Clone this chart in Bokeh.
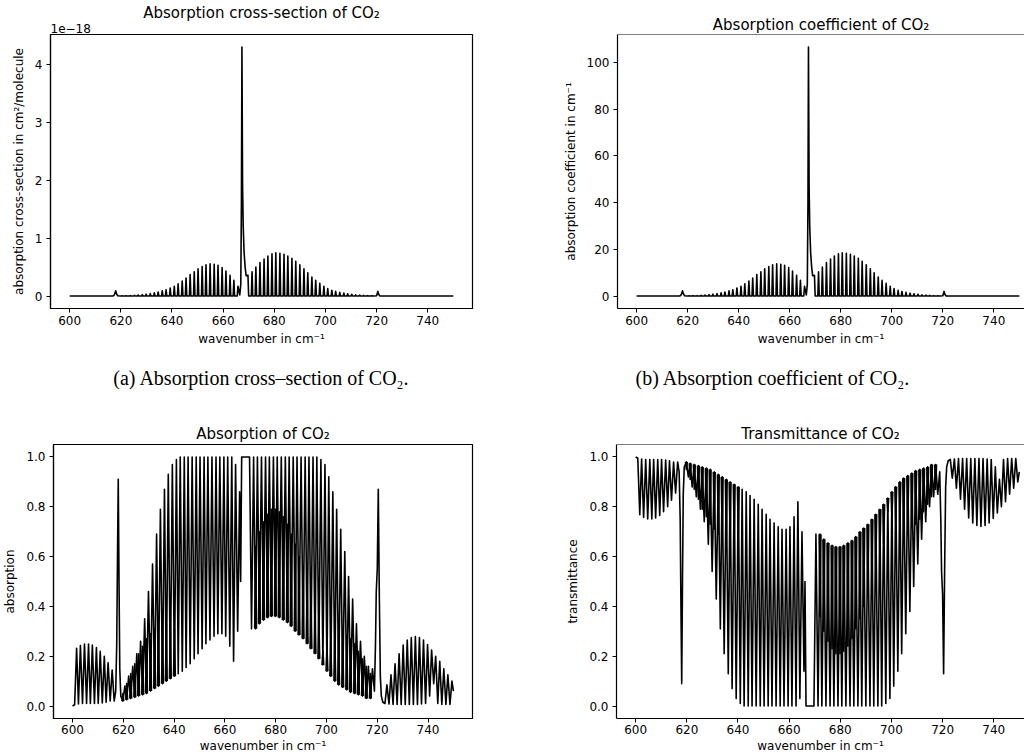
from bokeh.plotting import figure
from bokeh.layouts import column, row
from bokeh.models import Range1d, FixedTicker, Span, Title
from bokeh.embed import file_html
from bokeh.resources import INLINE

# ---------------- data ----------------
x_ticks = [600, 620, 640, 660, 680, 700, 720, 740]

# main nu2 band, P branch lines (cm^-1), ascending
p_pos = [620.6, 622.1, 623.7, 625.3, 626.8, 628.4, 629.9, 631.5, 633.1, 634.6,
         636.2, 637.7, 639.3, 640.9, 642.4, 644.0, 645.5, 647.1, 648.7, 650.2,
         651.8, 653.3, 654.9, 656.5, 658.0, 659.6, 661.1, 662.7, 664.2, 665.8]
# cross-section peaks, units of 1e-18 cm^2/molecule
p_sigma = [0.003, 0.005, 0.008, 0.012, 0.017, 0.024, 0.032, 0.042, 0.055, 0.07,
           0.09, 0.11, 0.14, 0.17, 0.21, 0.26, 0.31, 0.37, 0.42, 0.47,
           0.51, 0.54, 0.555, 0.55, 0.53, 0.49, 0.43, 0.36, 0.27, 0.17]
# absorption at each line and in the trough just below it
p_abs_peak = [0.08, 0.12, 0.16, 0.21, 0.26, 0.35, 0.46, 0.57, 0.69, 0.79,
              0.87, 0.93, 0.97, 0.99, 1.0, 1.0, 1.0, 1.0, 1.0, 1.0,
              1.0, 1.0, 1.0, 1.0, 1.0, 1.0, 1.0, 1.0, 0.97, 0.86]
p_abs_trough = [0.02, 0.025, 0.03, 0.035, 0.04, 0.045, 0.05, 0.06, 0.07, 0.08,
                0.09, 0.10, 0.11, 0.12, 0.13, 0.14, 0.155, 0.17, 0.19, 0.21,
                0.23, 0.25, 0.265, 0.28, 0.29, 0.29, 0.28, 0.24, 0.18, 0.30]

# main band, R branch lines
r_pos = [669.7, 671.3, 672.8, 674.4, 676.0, 677.5, 679.1, 680.6, 682.2, 683.8,
         685.3, 686.9, 688.4, 690.0, 691.6, 693.1, 694.7, 696.2, 697.8, 699.4,
         700.9, 702.5, 704.0, 705.6, 707.2, 708.7, 710.3, 711.8, 713.4, 714.9,
         716.5, 718.1]
r_sigma = [0.36, 0.42, 0.50, 0.58, 0.64, 0.69, 0.73, 0.745, 0.74, 0.72,
           0.69, 0.65, 0.60, 0.54, 0.47, 0.40, 0.33, 0.27, 0.22, 0.17,
           0.13, 0.10, 0.08, 0.065, 0.05, 0.04, 0.03, 0.022, 0.016, 0.011,
           0.008, 0.005]
r_abs_peak = [1.0, 1.0, 1.0, 1.0, 1.0, 1.0, 1.0, 1.0, 1.0, 1.0,
              1.0, 1.0, 1.0, 1.0, 1.0, 1.0, 1.0, 1.0, 0.99, 0.97,
              0.92, 0.86, 0.79, 0.71, 0.62, 0.52, 0.43, 0.33, 0.26, 0.20,
              0.16, 0.15]
r_abs_trough = [0.31, 0.31, 0.33, 0.345, 0.355, 0.36, 0.36, 0.355, 0.345, 0.335,
                0.32, 0.30, 0.285, 0.27, 0.25, 0.23, 0.21, 0.19, 0.165, 0.14,
                0.12, 0.10, 0.085, 0.075, 0.065, 0.055, 0.05, 0.045, 0.04, 0.03,
                0.03, 0.06]

# Q branch near 667 cm^-1
q_x = [666.5, 666.9, 667.15, 667.35, 667.6, 667.85, 668.2, 668.6, 669.0]
q_sigma = [0.02, 0.2, 1.6, 4.30, 1.9, 1.2, 0.75, 0.5, 0.35]
q_abs_x = [666.2, 666.6, 669.3]
q_abs = [0.5, 1.0, 1.0]

# weak bands at 618 and 721 cm^-1
b618_sigma_x = [617.3, 617.7, 618.0, 618.3, 618.8]
b618_sigma = [0.01, 0.05, 0.09, 0.04, 0.005]
b721_sigma_x = [720.0, 720.3, 720.5, 720.8, 721.3]
b721_sigma = [0.005, 0.05, 0.08, 0.03, 0.0]
b618_abs_x = [616.4, 617.0, 617.4, 617.7, 618.0, 618.3, 618.6, 619.0]
b618_abs = [0.02, 0.06, 0.25, 0.60, 0.91, 0.50, 0.15, 0.04]
b721_abs_x = [719.3, 719.6, 720.0, 720.4, 720.8, 721.2, 721.6, 722.2]
b721_abs = [0.25, 0.46, 0.55, 0.87, 0.45, 0.12, 0.04, 0.015]

# lines of the weak bands at the edges of the range
edge_lo_pos = [601.6, 603.1, 604.7, 606.3, 607.8, 609.4, 610.9, 612.5, 614.0, 615.6]
edge_lo_abs = [0.232, 0.243, 0.249, 0.249, 0.245, 0.235, 0.22, 0.20, 0.174, 0.145]
edge_lo_trough = [0.005, 0.008, 0.01, 0.01, 0.01, 0.01, 0.01, 0.012, 0.015, 0.02]
edge_hi_pos = [723.8, 725.4, 727.0, 728.6, 730.2, 731.8, 733.4, 735.0, 736.6, 738.2,
               739.8, 741.4, 743.0, 744.6, 746.2, 747.8, 749.4]
edge_hi_abs = [0.085, 0.125, 0.17, 0.21, 0.245, 0.265, 0.275, 0.279, 0.275, 0.265,
               0.247, 0.225, 0.20, 0.18, 0.15, 0.125, 0.10]
edge_hi_trough = [0.01, 0.008, 0.006, 0.006, 0.006, 0.006, 0.006, 0.006, 0.006, 0.008,
                  0.01, 0.04, 0.09, 0.01, 0.006, 0.006, 0.006]

# weaker interleaved lines (hot bands), absorption peaks
sec618_abs = [0.05, 0.09, 0.13, 0.17, 0.21, 0.24, 0.27, 0.29, 0.31, 0.32, 0.33, 0.33, 0.32, 0.31]
hot_abs = [0.64, 0.70, 0.74, 0.77, 0.79, 0.79, 0.78, 0.76, 0.73, 0.69, 0.65, 0.60, 0.55,
           0.50, 0.45, 0.40, 0.35]
sec721_abs = [0.22, 0.24, 0.26, 0.28, 0.29, 0.29, 0.285, 0.27, 0.25, 0.22, 0.19, 0.16, 0.13]

n_co2 = 2.48e19          # molecules per cm^3 (ratio of panel b to panel a)
sigma_unit = 1e-18

HALF = 0.78              # half line spacing (cm^-1): trough position
NARROW = 0.28            # half width of a drawn cross-section spike

# ---------------- build curves ----------------
def cross_section_curve():
    xs, ys = [600.0, 616.8], [0.0, 0.0]
    xs += b618_sigma_x; ys += b618_sigma
    for c, h in zip(p_pos, p_sigma):
        xs += [c - HALF, c - NARROW, c]; ys += [0.0, 0.0, h]
        if c < p_pos[-1]:
            xs += [c + NARROW]; ys += [0.0]
    xs += q_x; ys += q_sigma
    for k, (c, h) in enumerate(zip(r_pos, r_sigma)):
        if k > 0:
            xs += [c - NARROW]; ys += [0.0]
        xs += [c, c + NARROW, c + HALF]; ys += [h, 0.0, 0.0]
    xs += b721_sigma_x; ys += b721_sigma
    xs += [750.0]; ys += [0.0]
    return xs, ys


def absorption_curve():
    xs, ys = [600.0], [0.0]
    for c, h, t in zip(edge_lo_pos, edge_lo_abs, edge_lo_trough):
        xs += [c - HALF, c]; ys += [t, h]
    xs += b618_abs_x; ys += b618_abs
    for c, h, t in zip(p_pos, p_abs_peak, p_abs_trough):
        xs += [c - HALF, c]; ys += [t, h]
    xs += q_abs_x; ys += q_abs
    for c, h, t in zip(r_pos, r_abs_peak, r_abs_trough):
        xs += [c, c + HALF]; ys += [h, t]
    xs += b721_abs_x; ys += b721_abs
    for c, h, t in zip(edge_hi_pos, edge_hi_abs, edge_hi_trough):
        xs += [c - HALF, c]; ys += [t, h]
    xs += [750.0]; ys += [0.06]
    return xs, ys


def secondary_lines():
    mxs, mys = [], []
    for i, h in enumerate(sec618_abs):
        c, b = p_pos[i] - HALF, p_abs_trough[i]
        mxs.append([c - 0.35, c, c + 0.35]); mys.append([b, h, b])
    for j, h in enumerate(hot_abs):
        i = j + 1
        c, b = r_pos[i] + HALF, r_abs_trough[i]
        mxs.append([c - 0.35, c, c + 0.35]); mys.append([b, h, b])
    for j, h in enumerate(sec721_abs):
        i = j + 18
        c, b = r_pos[i] + HALF, r_abs_trough[i]
        mxs.append([c - 0.35, c, c + 0.35]); mys.append([b, h, b])
    return mxs, mys


sx, sy = cross_section_curve()
ky = [v * sigma_unit * n_co2 for v in sy]
ax, ay = absorption_curve()
ty = [1.0 - v for v in ay]
smx, smy = secondary_lines()
tmy = [[1.0 - v for v in l] for l in smy]

FONT = "DejaVu Sans"
SERIF = "Liberation Serif"
LW = 1.6


def make_fig(width, height, x_end, y_rng, yticks, ylabels, title, ylabel,
             bl, br, bt, bb, clipped, xls=2, xas=2, tso=4):
    p = figure(width=width, height=height, x_range=Range1d(592.5, x_end),
               y_range=Range1d(*y_rng), output_backend="svg", toolbar_location=None,
               min_border_left=bl, min_border_right=br, min_border_top=bt,
               min_border_bottom=bb, title=title)
    p.grid.visible = False
    p.background_fill_color = "white"
    p.border_fill_color = "white"
    if clipped:
        p.outline_line_color = None
        p.add_layout(Span(location=y_rng[1], dimension="width",
                          line_color="black", line_width=1.2))
    else:
        p.outline_line_color = "black"
        p.outline_line_width = 1.2
    p.title.align = "center"
    p.title.text_font = FONT
    p.title.text_font_size = "15px"
    p.title.text_font_style = "normal"
    p.title.text_color = "black"
    p.title.standoff = tso
    for axis in (p.xaxis[0], p.yaxis[0]):
        axis.axis_line_color = "black"
        axis.axis_line_width = 1.2
        axis.major_tick_line_color = "black"
        axis.major_tick_out = 4
        axis.major_tick_in = 0
        axis.minor_tick_line_color = None
        axis.major_label_text_font = FONT
        axis.major_label_text_font_size = "12px"
        axis.major_label_text_color = "black"
        axis.axis_label_text_font = FONT
        axis.axis_label_text_font_size = "12px"
        axis.axis_label_text_font_style = "normal"
        axis.axis_label_text_color = "black"
    p.xaxis.ticker = FixedTicker(ticks=x_ticks)
    p.xaxis.major_label_standoff = xls
    p.xaxis.axis_label_standoff = xas
    p.xaxis.axis_label = "wavenumber in cm⁻¹"
    p.yaxis.ticker = FixedTicker(ticks=yticks)
    p.yaxis.major_label_overrides = {t: l for t, l in zip(yticks, ylabels)}
    p.yaxis.major_label_standoff = 4
    p.yaxis.axis_label_standoff = 6
    p.yaxis.axis_label = ylabel
    return p


def caption(p, text, align, offset):
    p.add_layout(Title(text=text, align=align, offset=offset, standoff=32,
                       text_font=SERIF, text_font_size="20px",
                       text_font_style="normal", text_color="black"), "below")


PX_PER_CM = 422 / 165.0
right_end = 592.5 + 408 / PX_PER_CM

# (a)
pa = make_fig(560, 404, 757.5, (-0.215, 4.515), [0, 1, 2, 3, 4],
              ["0", "1", "2", "3", "4"], "Absorption cross-section of CO₂",
              "absorption cross-section in cm²/molecule", 50, 88, 34, 96, False,
              xls=3, xas=4, tso=-2)
pa.line(sx, sy, line_color="black", line_width=LW, line_join="round")
pa.add_layout(Title(text="1e−18", align="left", offset=0, standoff=3,
                    text_font=FONT, text_font_size="12px", text_font_style="normal",
                    text_color="black"), "above")
caption(pa, "(a) Absorption cross–section of CO₂.", "center", 0)

# (b)
pb = make_fig(464, 404, right_end, (-5.33, 112.0), [0, 20, 40, 60, 80, 100],
              ["0", "20", "40", "60", "80", "100"], "Absorption coefficient of CO₂",
              "absorption coefficient in cm⁻¹", 56, 0, 34, 96, True,
              xls=3, xas=4, tso=2)
pb.line(sx, ky, line_color="black", line_width=LW, line_join="round")
caption(pb, "(b) Absorption coefficient of CO₂.", "left", 18)

yt = [0.0, 0.2, 0.4, 0.6, 0.8, 1.0]
yl = ["0.0", "0.2", "0.4", "0.6", "0.8", "1.0"]

# (c)
pc = make_fig(560, 352, 757.5, (-0.05, 1.05), yt, yl, "Absorption of CO₂",
              "absorption", 50, 88, 40, 38, False)
pc.multi_line(smx, smy, line_color="black", line_width=LW, line_join="round")
pc.line(ax, ay, line_color="black", line_width=LW, line_join="round")

# (d)
pd_ = make_fig(464, 352, right_end, (-0.05, 1.05), yt, yl, "Transmittance of CO₂",
               "transmittance", 56, 0, 40, 38, True)
pd_.multi_line(smx, tmy, line_color="black", line_width=LW, line_join="round")
pd_.line(ax, ty, line_color="black", line_width=LW, line_join="round")

layout = column(row(pa, pb), row(pc, pd_))
open("out.html", "w").write(file_html(layout, INLINE))
